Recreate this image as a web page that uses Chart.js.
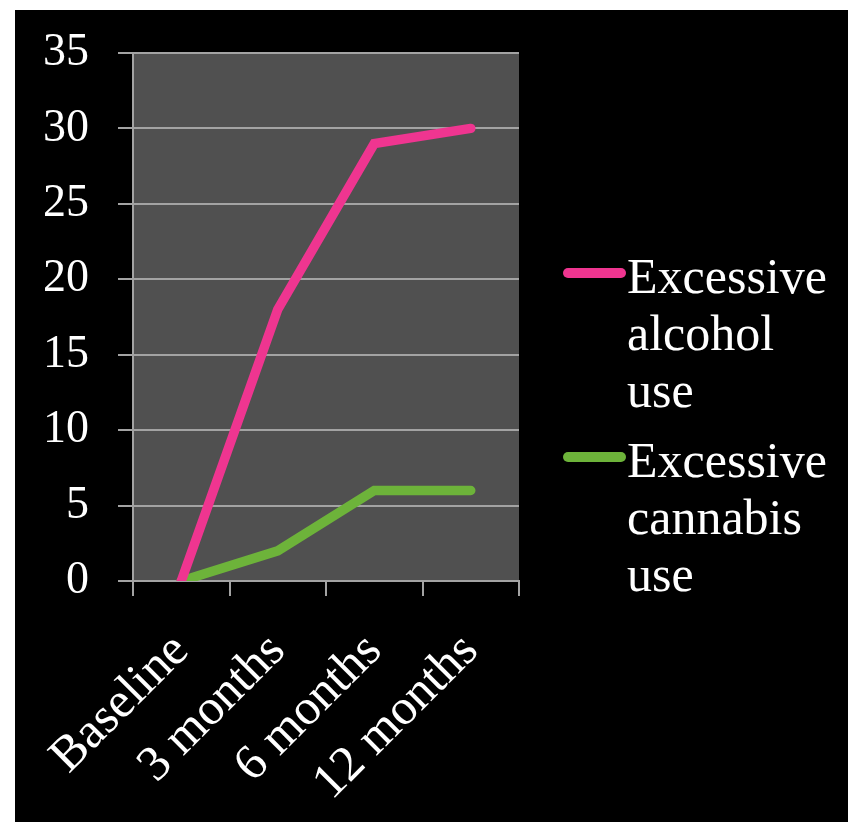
<!DOCTYPE html>
<html>
<head>
<meta charset="utf-8">
<script src="https://cdn.jsdelivr.net/npm/chart.js@4/dist/chart.umd.min.js"></script>
<style>
  html, body { margin: 0; padding: 0; background: #ffffff; }
  #wrap { position: absolute; left: 15px; top: 10px; width: 833px; height: 812px; background: #000000; }
</style>
</head>
<body>
<div id="wrap"><canvas id="myChart" width="833" height="812"></canvas></div>
<script>
var periods = ['Baseline', '3 months', '6 months', '12 months'];
var alcoholUse = [0, 18, 29, 30];
var cannabisUse = [0, 2, 6, 6];
var seriesNames = ['Excessive alcohol use', 'Excessive cannabis use'];
var seriesColors = ['#ef3590', '#6db33a'];
var yTicks = [0, 5, 10, 15, 20, 25, 30, 35];

var serif = '"Liberation Serif", "DejaVu Serif", serif';
var gridColor = '#a3a3a3';

// dark panel behind the plot
var plotBackground = {
    id: 'plotBackground',
    beforeDraw: function (chart) {
        var a = chart.chartArea, ctx = chart.ctx;
        ctx.save();
        ctx.fillStyle = '#505050';
        ctx.fillRect(a.left, a.top, a.right - a.left, a.bottom - a.top);
        ctx.restore();
    }
};

// legend with wrapped labels on the right
var sideLegend = {
    id: 'sideLegend',
    afterDraw: function (chart) {
        var a = chart.chartArea, ctx = chart.ctx;
        var textX = a.right + 108;
        var maxW = chart.width - textX - 4;
        var lineH = 57;
        var y = a.bottom - 288;
        ctx.save();
        ctx.font = '50px ' + serif;
        ctx.fillStyle = '#ffffff';
        ctx.textBaseline = 'alphabetic';
        chart.data.datasets.forEach(function (ds) {
            var words = ds.label.split(' ');
            var lines = [], cur = '';
            words.forEach(function (w) {
                var test = cur ? cur + ' ' + w : w;
                if (cur && ctx.measureText(test).width > maxW) { lines.push(cur); cur = w; }
                else cur = test;
            });
            lines.push(cur);

            ctx.strokeStyle = ds.borderColor;
            ctx.lineWidth = 10;
            ctx.lineCap = 'round';
            ctx.beginPath();
            ctx.moveTo(a.right + 49, y - 20);
            ctx.lineTo(a.right + 102, y - 20);
            ctx.stroke();

            lines.forEach(function (t, i) {
                ctx.fillText(t, textX, y + i * lineH);
            });
            y += (lines.length - 1) * lineH + 70;
        });
        ctx.restore();
    }
};

new Chart('myChart', {
    type: 'line',
    data: {
        labels: periods,
        datasets: [
            { label: seriesNames[0], data: alcoholUse, borderColor: seriesColors[0] },
            { label: seriesNames[1], data: cannabisUse, borderColor: seriesColors[1] }
        ]
    },
    plugins: [plotBackground, sideLegend],
    options: {
        responsive: false,
        animation: false,
        layout: { padding: { top: 43, right: 329, bottom: 0, left: 0 } },
        elements: {
            line: { borderWidth: 9.5, borderCapStyle: 'round', borderJoinStyle: 'miter', tension: 0 },
            point: { radius: 0, hoverRadius: 0 }
        },
        plugins: {
            legend: { display: false },
            tooltip: { enabled: false }
        },
        scales: {
            x: {
                offset: true,
                grid: { drawOnChartArea: false, color: gridColor, lineWidth: 2, tickLength: 15, offset: true },
                border: { display: true, color: gridColor, width: 2 },
                ticks: { color: '#ffffff', font: { family: serif, size: 50 }, minRotation: 45, maxRotation: 45, padding: 26 },
                afterFit: function (s) { s.height = 241; }
            },
            y: {
                min: 0,
                max: 35,
                afterBuildTicks: function (s) { s.ticks = yTicks.map(function (v) { return { value: v }; }); },
                grid: { color: gridColor, lineWidth: 2, tickLength: 15 },
                border: { display: true, color: gridColor, width: 2 },
                // small line height keeps the top label from pushing the plot down
                ticks: { color: '#ffffff', font: { family: serif, size: 46, lineHeight: 0.6 }, padding: 29 },
                afterFit: function (s) { s.width = 118; }
            }
        }
    }
});
</script>
</body>
</html>
